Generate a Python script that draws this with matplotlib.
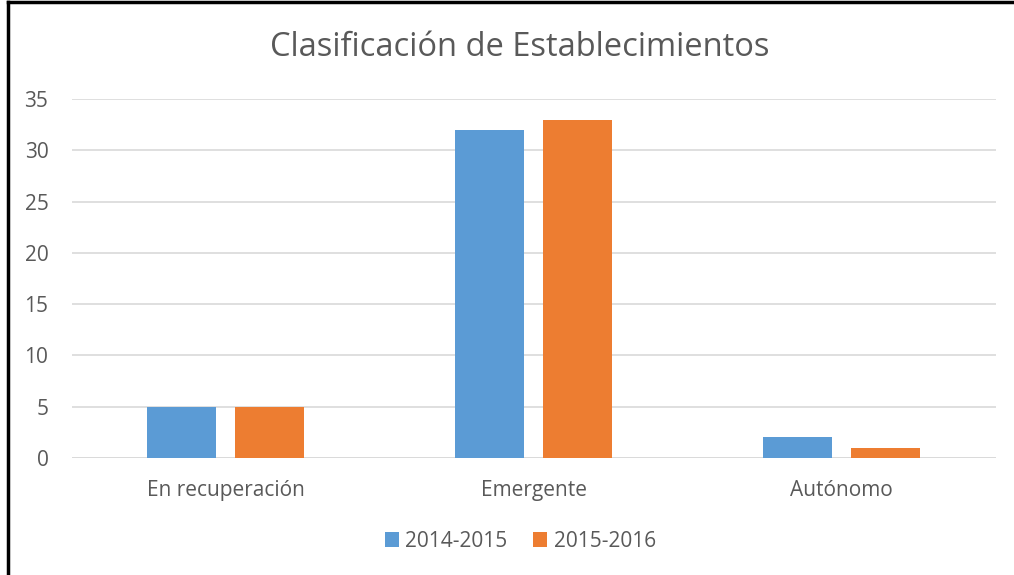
import matplotlib
matplotlib.use("Agg")
import matplotlib.pyplot as plt
import numpy as np
from matplotlib.lines import Line2D

categories = ["En recuperación", "Emergente", "Autónomo"]
series_names = ["2014-2015", "2015-2016"]
values_2014 = [5, 32, 2]
values_2015 = [5, 33, 1]
yticks = [0, 5, 10, 15, 20, 25, 30, 35]

plt.rcParams['font.family'] = ['Open Sans', 'DejaVu Sans']
TXT = '#595959'
BLUE = '#5B9BD5'
ORANGE = '#ED7D31'

fig = plt.figure(figsize=(10.14, 5.75), dpi=100)
ax = fig.add_axes([0.071, 0.2035, 0.911, 0.6243])

x = np.arange(len(categories))
w = 0.224
off = 0.143
ax.bar(x - off, values_2014, width=w, color=BLUE, label=series_names[0], zorder=3)
ax.bar(x + off, values_2015, width=w, color=ORANGE, label=series_names[1], zorder=3)

ax.set_xlim(-0.5, len(categories) - 0.5)
ax.set_ylim(0, 35)
ax.set_yticks(yticks)
ax.set_yticklabels([str(t) for t in yticks])
ax.set_xticks(x)
ax.set_xticklabels(categories)
ax.yaxis.grid(True, color='#D9D9D9', linewidth=1.2, zorder=0)
ax.set_axisbelow(True)
for s in ax.spines.values():
    s.set_visible(False)
ax.axhline(0, color='#D9D9D9', linewidth=1.2, zorder=1)
ax.tick_params(axis='both', length=0, colors=TXT, labelsize=15)
ax.tick_params(axis='y', pad=17)
ax.tick_params(axis='x', pad=16)

fig.text(0.513, 0.917, "Clasificación de Establecimientos", ha='center', va='center',
         fontsize=23.5, color=TXT)

leg = fig.legend(loc='center', bbox_to_anchor=(0.513, 0.059), ncol=2, frameon=False,
                 fontsize=15, handlelength=0.7, handleheight=0.7, columnspacing=1.2,
                 handletextpad=0.3)
for t in leg.get_texts():
    t.set_color(TXT)

fig.add_artist(Line2D([0.008, 0.008], [0, 0.997], transform=fig.transFigure, color='black', linewidth=2.5))
fig.add_artist(Line2D([0.008, 1.0], [0.997, 0.997], transform=fig.transFigure, color='black', linewidth=2.5))

fig.savefig("out.png", dpi=100)
